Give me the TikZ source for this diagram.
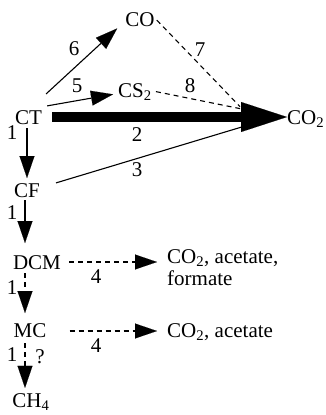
\documentclass[tikz,border=0pt]{standalone}
\usepackage{fontspec}
\setmainfont{Liberation Serif}
\usetikzlibrary{arrows.meta}

\tikzset{
  cpd/.style={inner sep=0pt, anchor=base, font=\fontsize{21}{21.5}\selectfont},
  lbl/.style={inner sep=0pt, font=\fontsize{21}{22}\selectfont},
  path/.style={line width=1.1pt, -{Triangle[length=22pt, width=15pt, line width=0.1pt]}},
  slow/.style={path, dash pattern=on 5pt off 4pt},
  major/.style={line width=10pt, -{Triangle[length=46pt, width=30pt, line width=0.1pt]}},
}

\begin{document}
\begin{tikzpicture}[x=1pt, y=-1pt]
  \useasboundingbox (0,0) rectangle (325,415);
  % compounds
  \node[cpd] (ct)  at (28.5,124) {CT};
  \node[cpd] (co)  at (140,27)   {CO};
  \node[cpd] (cs)  at (135,97)   {CS\textsubscript{2}};
  \node[cpd, anchor=base west] (co2) at (287,124) {CO\textsubscript{2}};
  \node[cpd] (cf)  at (27,197)   {CF};
  \node[cpd] (dcm) at (37,269)   {DCM};
  \node[cpd] (mc)  at (30,337)   {MC};
  \node[cpd] (ch)  at (31,407)   {CH\textsubscript{4}};
  \node[cpd, anchor=base west, align=left] (pa) at (167,285) {CO\textsubscript{2}, acetate,\\formate};
  \node[cpd, anchor=base west] (pc) at (167,337) {CO\textsubscript{2}, acetate};
  % oxidation to CO2
  \draw[major] ([xshift=10pt]ct.east |- 0,117) -- (co2.west |- 0,117);
  \draw[path] ([shift={(4,-16)}]ct.north east) -- ([shift={(-8,1)}]co.south west);
  \draw[path] ([shift={(5,-4)}]ct.north east) -- ([shift={(-5,-6)}]cs.south west);
  \draw[line width=1.1pt] ([xshift=16pt]cf.north east) -- ([shift={(-24,2)}]co2.west);
  \draw[line width=1.1pt, dash pattern=on 5pt off 4pt] ([xshift=2pt]co.east) -- ([shift={(-47,-12)}]co2.west);
  \draw[line width=1.1pt, dash pattern=on 5pt off 4pt] ([xshift=4pt]cs.east) -- ([shift={(-47,-10)}]co2.west);
  \node[lbl] (l6) at (74,49)  {6};
  \node[lbl] (l5) at (77,86)  {5};
  \node[lbl] (l7) at (200,50) {7};
  \node[lbl] (l8) at (190,86) {8};
  \node[lbl] (l2) at (137,135) {2};
  \node[lbl] (l3) at (137,170) {3};
  % reductive dechlorination
  \draw[path] (27,128) -- (27,178);
  \draw[path] ([yshift=-3pt]cf.south -| 25,0) -- (25,243);
  \draw[slow] ([yshift=-4pt]dcm.south -| 25,0) -- (25,313);
  \draw[slow] ([yshift=-6pt]mc.south -| 25,0) -- ([yshift=5pt]ch.north -| 25,0);
  \node[lbl] (l1a) at (12,133) {1};
  \node[lbl] (l1b) at (12,213) {1};
  \node[lbl] (l1c) at (12,288) {1};
  \node[lbl] (l1d) at (12,355) {1};
  \node[lbl] (q)   at (40,357) {?};
  % other products
  \draw[slow] ([xshift=8pt]dcm.east |- 0,262) -- ([xshift=-10pt]pa.west |- 0,262);
  \draw[slow] ([xshift=23pt]mc.east |- 0,331) -- ([xshift=-10pt]pc.west |- 0,331);
  \node[lbl] (l4a) at (96,277) {4};
  \node[lbl] (l4b) at (96,346) {4};
\end{tikzpicture}
\end{document}
